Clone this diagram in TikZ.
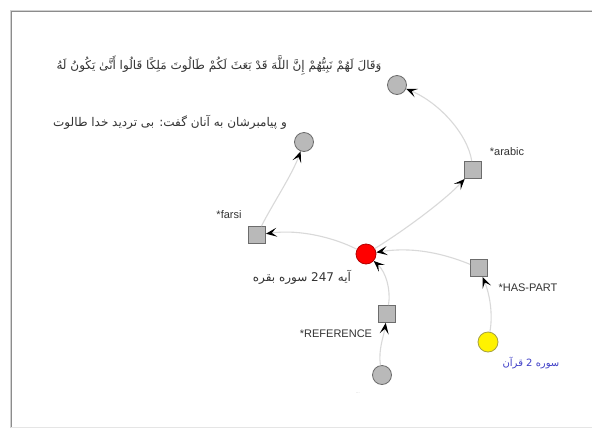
\documentclass[tikz,border=0pt]{standalone}
\usepackage{fontspec}
\setmainfont{Liberation Sans}
\newfontfamily\arabicfont[Script=Arabic]{DejaVu Sans}
\TeXXeTstate=1
\usetikzlibrary{arrows.meta}
\definecolor{edgegray}{HTML}{D9D9D9}
\definecolor{boxfill}{HTML}{B9B9B9}
\definecolor{boxdraw}{HTML}{6C6C6C}
\definecolor{txtgray}{HTML}{333333}
\definecolor{linkblue}{HTML}{4040C8}
\begin{document}
\begin{tikzpicture}[x=1pt,y=-1pt,
  sqnode/.style={rectangle,draw=boxdraw,fill=boxfill,line width=0.8pt,minimum size=17pt,inner sep=0pt},
  ballnode/.style={circle,draw=boxdraw,fill=boxfill,line width=0.8pt,minimum size=19pt,inner sep=0pt},
  conn/.style={draw=edgegray,line width=1.1pt,-{Stealth[length=11pt,width=9pt,inset=5pt,color=black]}},
  lbl/.style={text=txtgray,font=\fontsize{11}{13}\selectfont,inner sep=0pt},
  arlbl/.style={text=txtgray,font=\arabicfont\fontsize{12}{14}\selectfont,inner sep=0pt}]
\useasboundingbox (0,0) rectangle (592,429);
\fill[white] (0,0) rectangle (592,429);
% window frame
\draw[line width=2.5pt,color=black!18] (11,428) -- (11,11) -- (592,11);
\draw[line width=0.8pt,color=black!45] (11.5,428) -- (11.5,11.5) -- (592,11.5);
\draw[line width=1pt,color=black!10] (11,427.5) -- (592,427.5);

% nodes
\node[ballnode] (top) at (397,85) {};
\node[ballnode] (mid) at (304,142) {};
\node[sqnode] (arabic) at (473,170) {};
\node[sqnode] (farsi) at (257,235) {};
\node[circle,draw=red!70!black,fill=red,line width=0.8pt,minimum size=20pt,inner sep=0pt] (aye) at (366,254) {};
\node[sqnode] (haspart) at (479,268) {};
\node[sqnode] (ref) at (387,314) {};
\node[circle,draw=yellow!60!black,fill=yellow,line width=0.8pt,minimum size=20pt,inner sep=0pt] (sura) at (488,342) {};
\node[ballnode] (bottom) at (382,375) {};

% labels
\node[arlbl] (t1) at (219,65) {\beginR وَقَالَ لَهُمْ نَبِيُّهُمْ إِنَّ اللَّهَ قَدْ بَعَثَ لَكُمْ طَالُوتَ مَلِكًا قَالُوا أَنَّىٰ يَكُونُ لَهُ\endR};
\node[arlbl] (t2) at (170,122) {\beginR و پیامبرشان به آنان گفت: بی تردید خدا طالوت\endR};
\node[lbl] (larabic) at (507,152) {*arabic};
\node[lbl] (lfarsi) at (229,215) {*farsi};
\node[arlbl] (laye) at (302,277) {\beginR آیه \beginL 247\endL{} سوره بقره\endR};
\node[lbl] (lhas) at (528,288) {*HAS-PART};
\node[lbl] (lref) at (336,334) {*REFERENCE};
\node[arlbl,text=linkblue,font=\arabicfont\fontsize{10}{12}\selectfont] (lsura) at (531,363) {\beginR سوره \beginL 2\endL{} قرآن\endR};
\node[text=black!35,font=\fontsize{4}{5}\selectfont,inner sep=0pt] (lbottom) at (358,393) {...};

% connectors
\draw[conn] (aye) .. controls (408,228) and (446,199) .. (arabic);
\draw[conn] (arabic) .. controls (468,135) and (440,103) .. (top);
\draw[conn] (aye) .. controls (335,238) and (300,229) .. (farsi);
\draw[conn] (farsi) .. controls (272,205) and (292,175) .. (mid);
\draw[conn] (haspart) .. controls (440,252) and (410,247) .. (aye);
\draw[conn] (sura) .. controls (493,315) and (490,295) .. (haspart);
\draw[conn] (ref) .. controls (391,290) and (386,272) .. (aye);
\draw[conn] (bottom) .. controls (378,350) and (384,335) .. (ref);
\end{tikzpicture}
\end{document}
